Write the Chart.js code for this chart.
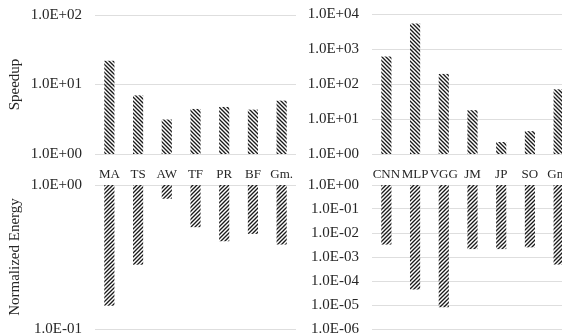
<!DOCTYPE html>
<html>
<head>
<meta charset="utf-8">
<script src="https://cdn.jsdelivr.net/npm/chart.js@4/dist/chart.umd.min.js"></script>
<style>
  html, body { margin: 0; padding: 0; background: #fff; }
  #wrap { position: relative; width: 562px; height: 334px; overflow: hidden; }
  .box { position: absolute; }
</style>
</head>
<body>
<div id="wrap">
  <div class="box" style="left:0;top:0;width:300px;height:185px"><canvas id="speedL"></canvas></div>
  <div class="box" style="left:281px;top:0;width:300px;height:185px"><canvas id="speedR"></canvas></div>
  <div class="box" style="left:0;top:170px;width:300px;height:180px"><canvas id="energyL"></canvas></div>
  <div class="box" style="left:281px;top:170px;width:300px;height:180px"><canvas id="energyR"></canvas></div>
</div>
<script>
const leftApps = ["MA", "TS", "AW", "TF", "PR", "BF", "Gm."];
const rightApps = ["CNN", "MLP", "VGG", "JM", "JP", "SO", "Gm."];

const speedupLeft = [21.8, 6.9, 3.1, 4.4, 4.7, 4.3, 5.8];
const speedupRight = [600, 5200, 190, 17.5, 2.15, 4.4, 69];
const energyLeft = [0.146, 0.281, 0.807, 0.512, 0.409, 0.46, 0.388];
const energyRight = [3.4e-3, 4.6e-5, 8.3e-6, 2.2e-3, 2.2e-3, 2.6e-3, 5.0e-4];

const speedTicksLeft = [1, 10, 100];
const speedTicksRight = [1, 10, 100, 1000, 10000];
const energyTicksLeft = [0.1, 1];
const energyTicksRight = [1e-6, 1e-5, 1e-4, 1e-3, 1e-2, 1e-1, 1];

const textColor = "#262626";
const gridColor = "#dedede";
const serif = "'Liberation Serif', 'Times New Roman', serif";

function sci(v) {
  const e = Math.round(Math.log10(v));
  const sign = e < 0 ? "-" : "+";
  return "1.0E" + sign + String(Math.abs(e)).padStart(2, "0");
}

function hatch(dir) {
  const c = document.createElement("canvas");
  c.width = c.height = 4;
  const g = c.getContext("2d");
  g.strokeStyle = "#1a1a1a";
  g.lineWidth = 1.35;
  g.beginPath();
  if (dir === "back") {
    g.moveTo(0, 0); g.lineTo(4, 4);
    g.moveTo(-1, 3); g.lineTo(1, 5);
    g.moveTo(3, -1); g.lineTo(5, 1);
  } else {
    g.moveTo(0, 4); g.lineTo(4, 0);
    g.moveTo(-1, 1); g.lineTo(1, -1);
    g.moveTo(3, 5); g.lineTo(5, 3);
  }
  g.stroke();
  return g.createPattern(c, "repeat");
}

function buildChart(id, opts) {
  const showX = opts.showX;
  return new Chart(document.getElementById(id), {
    type: "bar",
    data: {
      labels: opts.labels,
      datasets: [{
        data: opts.values.map((v) => [1, v]),
        backgroundColor: hatch(opts.hatch),
        borderWidth: 0,
        barThickness: 9.5,
      }],
    },
    options: {
      responsive: true,
      maintainAspectRatio: false,
      animation: false,
      layout: { padding: opts.padding },
      plugins: { legend: { display: false }, tooltip: { enabled: false } },
      scales: {
        x: {
          display: showX,
          grid: { display: false },
          border: { display: false },
          ticks: {
            color: textColor,
            font: { family: serif, size: 13 },
            padding: 5,
            maxRotation: 0,
            autoSkip: false,
          },
          afterFit: (s) => { if (showX) s.height = 31; },
        },
        y: {
          type: "logarithmic",
          min: opts.ticks[0],
          max: opts.ticks[opts.ticks.length - 1],
          grid: {
            color: gridColor,
            lineWidth: 1,
            drawTicks: true,
            tickLength: 13,
            tickColor: "rgba(0,0,0,0)",
          },
          border: { display: false },
          title: {
            display: !!opts.title,
            text: opts.title || "",
            color: textColor,
            font: { family: serif, size: 15 },
            padding: { top: 6, bottom: 0 },
          },
          ticks: {
            color: textColor,
            font: { family: serif, size: 15 },
            padding: 0,
            callback: (v) => sci(v),
          },
          afterBuildTicks: (s) => { s.ticks = opts.ticks.map((v) => ({ value: v })); },
          afterFit: (s) => { s.width = opts.axisWidth; },
        },
      },
    },
  });
}

buildChart("speedL", {
  labels: leftApps, values: speedupLeft, ticks: speedTicksLeft, hatch: "back",
  title: "Speedup", axisWidth: 95, showX: true,
  padding: { top: 15, right: 4, bottom: 0, left: 0 },
});
buildChart("speedR", {
  labels: rightApps, values: speedupRight, ticks: speedTicksRight, hatch: "back",
  axisWidth: 91, showX: true,
  padding: { top: 14, right: 8, bottom: 0, left: 0 },
});
buildChart("energyL", {
  labels: leftApps, values: energyLeft, ticks: energyTicksLeft, hatch: "fwd",
  title: "Normalized Energy", axisWidth: 95, showX: false,
  padding: { top: 15, right: 4, bottom: 21, left: 0 },
});
buildChart("energyR", {
  labels: rightApps, values: energyRight, ticks: energyTicksRight, hatch: "fwd",
  axisWidth: 91, showX: false,
  padding: { top: 15, right: 8, bottom: 21, left: 0 },
});
</script>
</body>
</html>
